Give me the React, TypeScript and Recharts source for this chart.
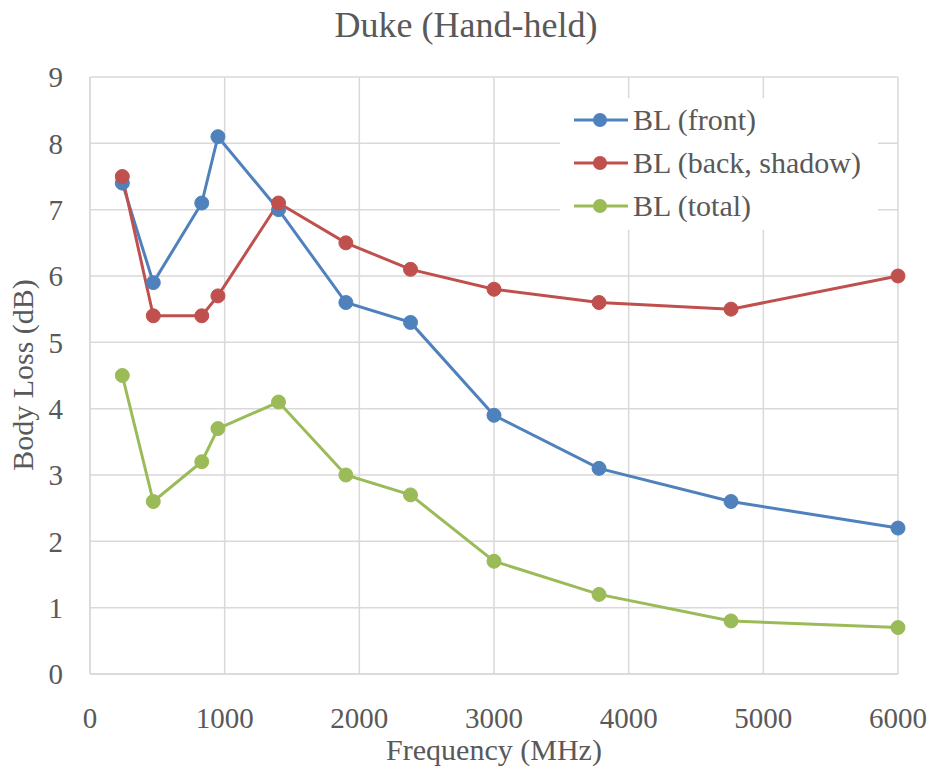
import { LineChart, Line, XAxis, YAxis, CartesianGrid } from "recharts";

const FREQS = [240, 470, 830, 950, 1400, 1900, 2380, 3000, 3780, 4760, 6000];
const FRONT = [7.4, 5.9, 7.1, 8.1, 7.0, 5.6, 5.3, 3.9, 3.1, 2.6, 2.2];
const BACK = [7.5, 5.4, 5.4, 5.7, 7.1, 6.5, 6.1, 5.8, 5.6, 5.5, 6.0];
const TOTAL = [4.5, 2.6, 3.2, 3.7, 4.1, 3.0, 2.7, 1.7, 1.2, 0.8, 0.7];

const X_TICKS = [0, 1000, 2000, 3000, 4000, 5000, 6000];
const Y_TICKS = [0, 1, 2, 3, 4, 5, 6, 7, 8, 9];

const SERIES = [
  { key: "front", name: "BL (front)", color: "#4f81bd" },
  { key: "back", name: "BL (back, shadow)", color: "#c0504d" },
  { key: "total", name: "BL (total)", color: "#9bbb59" },
];

const data = FREQS.map((f, i) => ({
  freq: f,
  front: FRONT[i],
  back: BACK[i],
  total: TOTAL[i],
}));

const FONT = '"Liberation Serif", "Times New Roman", serif';
const TEXT = "#595959";
const GRID = "#d9d9d9";

// legend drawn as a plain overlay so it doesn't shrink the plot
const LegendBox = () => (
  <div
    style={{
      position: "absolute",
      top: 98,
      left: 560,
      width: 318,
      height: 132,
      background: "#fff",
      fontFamily: FONT,
      fontSize: 30,
      color: TEXT,
      zIndex: 2,
    }}
  >
    {SERIES.map((s) => (
      <div
        key={s.key}
        style={{ height: 43, display: "flex", alignItems: "center" }}
      >
        <svg width={73} height={20} style={{ flex: "none" }}>
          <line x1={14} y1={10} x2={68} y2={10} stroke={s.color} strokeWidth={3} />
          <circle cx={40} cy={10} r={7} fill={s.color} />
        </svg>
        <span style={{ whiteSpace: "nowrap" }}>{s.name}</span>
      </div>
    ))}
  </div>
);

export default function App() {
  return (
    <div
      style={{
        position: "absolute",
        left: 0,
        top: 0,
        width: 932,
        height: 769,
        background: "#fff",
      }}
    >
      <div
        style={{
          position: "absolute",
          top: 7,
          left: 0,
          width: 932,
          textAlign: "center",
          fontFamily: FONT,
          fontSize: 36,
          lineHeight: "36px",
          color: TEXT,
          zIndex: 2,
        }}
      >
        Duke (Hand-held)
      </div>
      <LegendBox />
      <LineChart
        width={932}
        height={769}
        data={data}
        margin={{ top: 77, right: 34, bottom: 0, left: 0 }}
      >
        <CartesianGrid stroke={GRID} strokeWidth={1.5} />
        <XAxis
          dataKey="freq"
          type="number"
          domain={[0, 6000]}
          ticks={X_TICKS}
          height={95}
          tickSize={0}
          tickMargin={33}
          axisLine={{ stroke: GRID, strokeWidth: 1.5 }}
          tick={{ fill: TEXT, fontSize: 29, fontFamily: FONT }}
          label={{
            value: "Frequency (MHz)",
            position: "insideBottom",
            offset: 9,
            fill: TEXT,
            fontSize: 30,
            fontFamily: FONT,
          }}
        />
        <YAxis
          type="number"
          domain={[0, 9]}
          ticks={Y_TICKS}
          width={90}
          tickSize={0}
          tickMargin={27}
          axisLine={{ stroke: GRID, strokeWidth: 1.5 }}
          tick={{ fill: TEXT, fontSize: 29, fontFamily: FONT }}
        />
        <text
          x={33}
          y={375}
          transform="rotate(-90, 33, 375)"
          textAnchor="middle"
          fill={TEXT}
          fontSize={30}
          fontFamily={FONT}
        >
          Body Loss (dB)
        </text>
        {SERIES.map((s) => (
          <Line
            key={s.key}
            dataKey={s.key}
            name={s.name}
            stroke={s.color}
            strokeWidth={3}
            dot={{ r: 7, fill: s.color, stroke: s.color, strokeWidth: 1 }}
            activeDot={false}
            isAnimationActive={false}
          />
        ))}
      </LineChart>
    </div>
  );
}
